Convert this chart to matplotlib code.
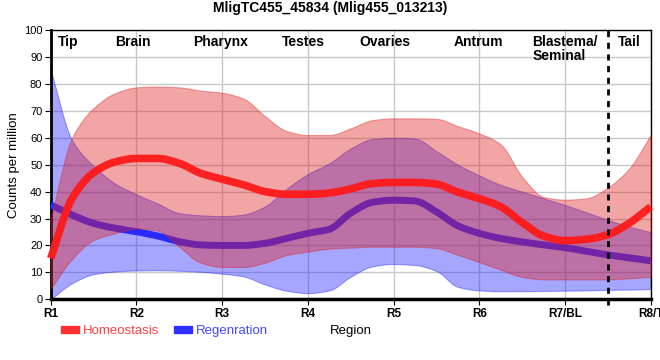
import numpy as np
import matplotlib
matplotlib.use("Agg")
import matplotlib.pyplot as plt
from matplotlib.patches import Patch

plt.rcParams['font.family'] = ['Liberation Sans', 'DejaVu Sans']

# positions along the body, sampled every quarter region (R1 = 0 ... R8/T = 7)
pos = np.arange(29) * 0.25
tick_labels = ["R1", "R2", "R3", "R4", "R5", "R6", "R7/BL", "R8/T"]
region_names = ["Tip", "Brain", "Pharynx", "Testes", "Ovaries", "Antrum", "Blastema/\nSeminal", "Tail"]
region_pos = [0.2, 0.96, 1.98, 2.95, 3.9, 4.99, 6.0, 6.75]

homeo_mean = [15.2, 37.5, 47, 51, 52.3, 52.3, 50.5, 46.8, 44.6, 42.5, 40, 39, 39, 39.5, 41,
              43, 43.4, 43.4, 42.8, 39.8, 37.4, 34.4, 28.5, 23.5, 21.8, 22.3, 24, 28.3, 34.4]
homeo_lo = [4, 15, 22, 24.5, 26.3, 25.5, 19.5, 13.6, 12, 12, 13.6, 16.4, 17.7, 18.8, 19.2,
            19.5, 19.5, 19.5, 19, 16.5, 13.8, 11, 8.3, 7.4, 7.4, 7.4, 7.4, 7.8, 8.4]
homeo_hi = [30, 60, 71, 76.5, 78.7, 79, 78.7, 77.5, 76.7, 74.5, 68, 62.5, 61, 61, 63.5,
            66.5, 67.2, 67.2, 67, 64.3, 61.6, 57.5, 45.5, 38, 37, 37.5, 41.5, 48.6, 61]

regen_mean = [35, 31.3, 28.2, 26.4, 25.1, 23.5, 21.4, 20.2, 20, 20, 20.8, 22.6, 24.5, 26, 32,
              36, 36.8, 36.5, 32.5, 27.3, 24.5, 22.6, 21.3, 20.2, 19.2, 17.8, 16.5, 15.4, 14.3]
regen_lo = [0, 6, 9.3, 10.3, 10.7, 10.8, 10.6, 10.2, 9.5, 8.5, 5.5, 3.2, 2.3, 3.3, 8.4,
            12.2, 13.1, 12.7, 10.5, 4.6, 3.3, 3, 3, 3.1, 3.2, 3.3, 3.5, 3.6, 3.8]
regen_hi = [85, 59, 49.5, 43, 39, 35.5, 32, 31.2, 30.9, 31.5, 34.5, 41, 46.5, 50.5, 56,
            59.5, 60, 59.7, 55, 50, 46, 42.5, 40, 37.5, 35, 32.3, 29.5, 27, 24.9]


def smooth(x, y, n=600):
    # monotone cubic (Fritsch-Carlson) through the read points
    x = np.asarray(x, float)
    y = np.asarray(y, float)
    h = np.diff(x)
    d = np.diff(y) / h
    m = np.zeros_like(y)
    for i in range(1, len(y) - 1):
        if d[i - 1] * d[i] > 0:
            w1 = 2 * h[i] + h[i - 1]
            w2 = h[i] + 2 * h[i - 1]
            m[i] = (w1 + w2) / (w1 / d[i - 1] + w2 / d[i])
    m[0] = d[0]
    m[-1] = d[-1]
    xs = np.linspace(x[0], x[-1], n)
    k = np.clip(np.searchsorted(x, xs, side='right') - 1, 0, len(h) - 1)
    t = (xs - x[k]) / h[k]
    h00 = 2 * t**3 - 3 * t**2 + 1
    h10 = t**3 - 2 * t**2 + t
    h01 = -2 * t**3 + 3 * t**2
    h11 = t**3 - t**2
    ys = h00 * y[k] + h10 * h[k] * m[k] + h01 * y[k + 1] + h11 * h[k] * m[k + 1]
    return xs, ys


fig = plt.figure(figsize=(6.6, 3.6), dpi=100)
ax = fig.add_axes([50.7 / 660, 1 - 299.3 / 360, 600 / 660, 269.3 / 360])

red_band = (0.87, 0.12, 0.12)
blue_band = (0.13, 0.13, 1.0)

xs, lo = smooth(pos, regen_lo)
_, hi = smooth(pos, regen_hi)
ax.fill_between(xs, lo, hi, color=blue_band, alpha=0.4, lw=0.8, zorder=2)
xs, ym = smooth(pos, regen_mean)
ax.plot(xs, ym, color='#2a2aff', lw=5, solid_capstyle='butt', zorder=3)

xs, lo = smooth(pos, homeo_lo)
_, hi = smooth(pos, homeo_hi)
ax.fill_between(xs, lo, hi, color=red_band, alpha=0.4, lw=0.8, zorder=4)
xs, ym = smooth(pos, homeo_mean)
ax.plot(xs, ym, color='#ff1a1a', lw=5.5, alpha=0.95, solid_capstyle='butt', zorder=5, clip_on=False)

ax.axvline(6.5, ymin=-0.02, ymax=1, color='black', ls=(0, (2.2, 2)), lw=2, zorder=6, clip_on=False)

for name, xp in zip(region_names, region_pos):
    ax.text(xp, 98.3, name, ha='center', va='top', fontsize=10, fontweight='bold',
            multialignment='left', linespacing=1.0, zorder=7)

ax.set_xlim(0, 7)
ax.set_ylim(0, 100)
ax.set_xticks(range(8))
ax.set_xticklabels(tick_labels, fontsize=8.5, fontweight='bold')
ax.set_yticks(range(0, 101, 10))
ax.tick_params(axis='y', labelsize=8, length=4, pad=2)
ax.tick_params(axis='x', length=4, pad=2)
ax.grid(True, color='#c8c8c8', lw=1, zorder=0)
ax.set_axisbelow(True)
for s in ['top', 'right']:
    ax.spines[s].set_linewidth(1)
ax.spines['left'].set_linewidth(2)
ax.spines['bottom'].set_linewidth(2.5)

ax.set_xlabel('Region', fontsize=9.5, labelpad=4)
ax.set_ylabel('Counts per million', fontsize=9.5, labelpad=3)

fig.text(0.5, 1 - 8 / 360, 'MligTC455_45834 (Mlig455_013213)', ha='center', va='center',
         fontsize=10, fontweight='bold')

handles = [Patch(color='#ff3030'), Patch(color='#3030ff')]
fig.legend(handles, ['Homeostasis', 'Regenration'], loc='center left',
           bbox_to_anchor=(54 / 660, 1 - 331 / 360), ncol=2, frameon=False,
           labelcolor=['#ff4040', '#4646ff'], fontsize=9.5, handlelength=1.4,
           handleheight=0.5, handletextpad=0.3, columnspacing=1.1, borderpad=0)

fig.savefig('out.png', dpi=100)
